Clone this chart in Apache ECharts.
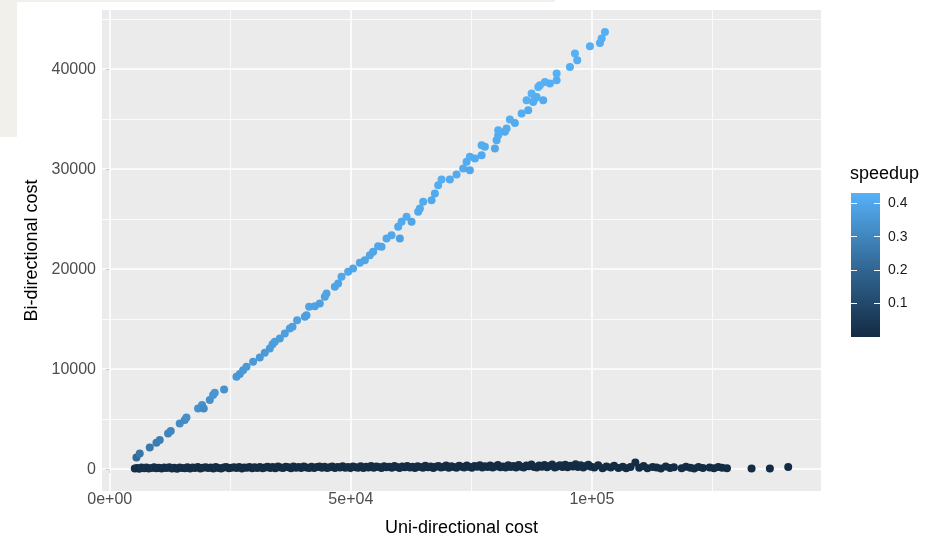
<!DOCTYPE html>
<html>
<head>
<meta charset="utf-8">
<script src="https://cdn.jsdelivr.net/npm/echarts@6/dist/echarts.min.js"></script>
<style>
  html, body { margin: 0; padding: 0; background: #fff; }
  #chart { width: 936px; height: 536px; }
</style>
</head>
<body>
<div id="chart"></div>
<script>
// upper branch (speedup ~0.2 - 0.43)
const uniHigh = [
  5540, 6224, 8299, 9689, 10373, 12095, 12656, 14523, 15560, 15913,
  18320, 19150, 19502, 20747, 21432, 21784, 23714, 26287, 26971,
  27656, 28361, 29730, 31121, 32158, 33195, 33756, 34233, 35270, 36307,
  37345, 37905, 38859, 40457, 40809, 41349, 42532, 43569, 44606, 44959,
  46681, 47366,
  48071, 49440, 50478, 51868, 52905, 53943, 54627, 55665, 56370, 57407,
  58445, 60166, 59814, 60519, 61556, 62593, 63963, 64316, 65000, 66743,
  67428, 68113,
  68818, 70540, 71930, 73300, 74689, 74005, 74689, 75727, 77117, 77117,
  77801, 79876, 80229, 80560, 80560, 82302, 81951, 82988, 84025, 85415,
  86784, 86452, 87489, 88527, 88880,
  87822, 88174, 89212, 89896, 90249, 91286, 92676, 92676, 95436, 96474,
  96951, 99586, 101660, 102013, 102697
];
const biHigh = [
  1170, 1570, 2170, 2630, 2900, 3570, 3800, 4570, 4900, 5170,
  6070, 6400, 6070, 6900, 7400, 7630, 7970, 9230, 9500,
  9900, 10230, 10730, 11170, 11630, 12070, 12500, 12730, 13070, 13570,
  14070, 14230, 14900, 15230, 15400, 16230, 16300, 16570, 17230, 17570,
  18230, 18570,
  19230, 19730, 20070, 20630, 20900, 21400, 21730, 22300, 22230, 23070,
  23400, 23070, 24230, 24730, 25230, 24730, 25730, 26070, 26730, 26900,
  27570, 28400,
  28970, 28970, 29470, 30070, 29900, 30730, 31230, 31070, 31400, 32400,
  32230, 32070, 32900, 33400, 33900, 34070, 33730, 34970, 34630, 35570,
  35900, 36900, 37570, 37230, 38230,
  36730, 37070, 38400, 36900, 38730, 38570, 39570, 38900, 40230, 41570,
  40900, 42300, 42630, 43070, 43730
];

// lower branch (speedup ~0)
const uniLow = [
  5200, 5650, 6100, 6600, 7150, 7600, 8100, 8700, 9200, 9650,
  10200, 10750, 11300, 11800, 12350, 12900, 13400, 13950, 14500, 15000,
  15600, 16100, 16650, 17200, 17700, 18250, 18800, 19300, 19900, 20400,
  20950, 21500, 22000, 22550, 23100, 23650, 24150, 24700, 25250, 25800,
  26300, 26850, 27400, 27900, 28450, 29000, 29550, 30050, 30600, 31150,
  31700, 32200, 32750, 33300, 33800, 34350, 34900, 35450, 35950, 36500,
  37050, 37600, 38100, 38650, 39200, 39700, 40250, 40800, 41350, 41850,
  42400, 42950, 43500, 44000, 44550, 45100, 45600, 46150, 46700, 47250,
  47750, 48300, 48850, 49400, 49900, 50450, 51000, 51500, 52050, 52600,
  53150, 53650, 54200, 54750, 55300, 55800, 56350, 56900, 57400, 57950,
  58500, 59050, 59550, 60100, 60650, 61200, 61700, 62250, 62800, 63300,
  63850, 64400, 64950, 65450, 66000, 66550, 67100, 67600, 68150, 68700,
  69200, 69750, 70300, 70850, 71350, 71900, 72450, 73000, 73500, 74050,
  74600, 75100, 75650, 76200, 76750, 77250, 77800, 78350, 78900, 79400,
  79950, 80500, 81000, 81550, 82100, 82650, 83150, 83700, 84250, 84800,
  85300, 85850, 86400, 86900, 87450, 88000, 88550, 89050, 89600, 90150,
  90700, 91200, 91750, 92300, 92800, 93350, 93900, 94450, 94950, 95500,
  96050, 96600, 97100, 97650, 98200, 98700, 99250, 99800,
  100500, 101300, 102200, 103000, 103900, 104600, 105500, 106400, 107100, 108000,
  109000, 109800, 110700, 111500, 112600, 113400, 114300, 115300, 116200, 117000,
  118600, 119500, 120400, 121200, 122100, 123000, 124400, 125300, 126200, 127000,
  128000, 133100, 136900, 140700
];
const biLow = [
  60, 120, 40, 150, 90, 170, 50, 110, 180, 80,
  130, 50, 160, 100, 190, 70, 140, 40, 170, 120,
  90, 190, 60, 150, 110, 200, 50, 140, 180, 100,
  160, 70, 200, 120, 60, 170, 210, 90, 140, 190,
  110, 210, 70, 170, 130, 220, 90, 180, 120, 200,
  80, 170, 240, 120, 200, 90, 250, 150, 110, 230,
  180, 90, 250, 140, 210, 100, 260, 170, 120, 230,
  100, 200, 270, 140, 240, 110, 190, 260, 100, 220,
  170, 290, 130, 220, 100, 260, 190, 140, 280, 110,
  230, 160, 300, 130, 250, 200, 110, 280, 180, 230,
  140, 300, 210, 120, 270, 190, 320, 150, 240, 110,
  290, 210, 140, 330, 190, 260, 120, 230, 310, 170,
  220, 350, 140, 290, 200, 130, 330, 240, 160, 370,
  210, 130, 310, 230, 390, 160, 280, 200, 360, 150,
  270, 420, 190, 250, 150, 380, 220, 320, 170, 410,
  240, 160, 370, 280, 450, 200, 150, 350, 240, 400,
  190, 320, 460, 170, 270, 390, 220, 440, 180, 340,
  250, 480, 200, 390, 160, 310, 430, 230,
  150, 380, 90, 270, 160, 330, 110, 240, 80, 200,
  650, 140, 310, 90, 220, 150, 60, 260, 120, 190,
  80, 230, 140, 60, 200, 110, 170, 90, 220, 130,
  80, 50, 50, 200
];

const xTicks = [0, 50000, 100000];
const xMinor = [25000, 75000, 125000];
const yTicks = [0, 10000, 20000, 30000, 40000];
const yMinor = [5000, 15000, 25000, 35000, 45000];
const legendTicks = [0.1, 0.2, 0.3, 0.4];

const lowColor = '#132B43';
const midColor = '#336A98';
const highColor = '#56B1F7';

function toPoints(uni, bi) {
  return uni.map((u, i) => [u, bi[i], bi[i] / u]);
}
const points = toPoints(uniLow, biLow).concat(toPoints(uniHigh, biHigh));
const spMax = Math.max(...points.map(p => p[2]));

// 5e+04 style labels like R prints them
function sci(v) {
  if (v === 0) return '0e+00';
  const [m, e] = v.toExponential(0).split('e');
  return m + 'e' + e[0] + e.slice(1).padStart(2, '0');
}

const chart = echarts.init(document.getElementById('chart'));
const font = 'Liberation Sans, Arial, sans-serif';

const gridLines = []
  .concat(xTicks.map(v => ({ xAxis: v, lineStyle: { width: 1.6 } })))
  .concat(xMinor.map(v => ({ xAxis: v, lineStyle: { width: 0.8 } })))
  .concat(yTicks.map(v => ({ yAxis: v, lineStyle: { width: 1.6 } })))
  .concat(yMinor.map(v => ({ yAxis: v, lineStyle: { width: 0.8 } })));

const option = {
  animation: false,
  backgroundColor: '#ffffff',
  textStyle: { fontFamily: font },
  graphic: [
    { type: 'rect', left: 0, top: 0, shape: { width: 17, height: 137 }, style: { fill: '#F1F0EA' }, z: 100 },
    { type: 'rect', left: 17, top: 0, shape: { width: 538, height: 2 }, style: { fill: '#F1F0EA' }, z: 100 }
  ],
  grid: [
    { left: 102, right: 115, top: 10, bottom: 45, outerBoundsMode: 'none', show: true, backgroundColor: '#EBEBEB', borderWidth: 0 },
    { left: 851, top: 193, width: 29, height: 144, outerBoundsMode: 'none', show: false }
  ],
  xAxis: [
    {
      type: 'value', gridIndex: 0, min: -1600, max: 147500,
      name: 'Uni-directional cost', nameLocation: 'middle', nameGap: 28,
      nameTextStyle: { color: '#000', fontSize: 18, fontFamily: font },
      axisLine: { show: false },
      axisTick: { show: true, customValues: xTicks, length: 4, lineStyle: { color: '#333333', width: 1 } },
      axisLabel: { customValues: xTicks, color: '#4D4D4D', fontSize: 16, margin: 1, formatter: v => sci(v) },
      splitLine: { show: false }
    },
    { type: 'category', gridIndex: 1, data: ['speedup'], show: false }
  ],
  yAxis: [
    {
      type: 'value', gridIndex: 0, min: -2190, max: 45920,
      name: 'Bi-directional cost', nameLocation: 'middle', nameGap: 51,
      nameTextStyle: { color: '#000', fontSize: 18, fontFamily: font },
      axisLine: { show: false },
      axisTick: { show: true, customValues: yTicks, length: 4, lineStyle: { color: '#333333', width: 1 } },
      axisLabel: { customValues: yTicks, color: '#4D4D4D', fontSize: 16, margin: 6, formatter: v => String(v) },
      splitLine: { show: false }
    },
    {
      type: 'value', gridIndex: 1, min: 0, max: spMax, position: 'right', z: 10,
      axisLine: { show: false },
      axisTick: { show: true, inside: true, customValues: legendTicks, length: 6, lineStyle: { color: '#ffffff', width: 1 } },
      axisLabel: { customValues: legendTicks, color: '#1A1A1A', fontSize: 14, margin: 8, formatter: v => v.toFixed(1) },
      splitLine: { show: false },
      name: 'speedup', nameLocation: 'end', nameGap: 10,
      nameTextStyle: { color: '#000', fontSize: 18, align: 'left', padding: [0, 0, 0, -30] }
    },
    {
      type: 'value', gridIndex: 1, min: 0, max: spMax, position: 'left', z: 10,
      axisLine: { show: false },
      axisTick: { show: true, inside: true, customValues: legendTicks, length: 6, lineStyle: { color: '#ffffff', width: 1 } },
      axisLabel: { show: false },
      splitLine: { show: false }
    }
  ],
  visualMap: {
    show: false, type: 'continuous', seriesIndex: 1, dimension: 2,
    min: 0, max: spMax,
    inRange: { color: [lowColor, midColor, highColor] }
  },
  series: [
    {
      // panel grid lines, drawn below the points
      type: 'line', xAxisIndex: 0, yAxisIndex: 0, data: [], z: 1,
      markLine: {
        silent: true, symbol: 'none', animation: false, z: 1,
        label: { show: false },
        lineStyle: { color: '#ffffff', type: 'solid' },
        data: gridLines
      }
    },
    {
      type: 'scatter', xAxisIndex: 0, yAxisIndex: 0, z: 3,
      symbolSize: 8,
      itemStyle: { opacity: 1 },
      data: points
    },
    {
      type: 'bar', xAxisIndex: 1, yAxisIndex: 1, barWidth: '100%', z: 2,
      data: [spMax],
      itemStyle: {
        color: new echarts.graphic.LinearGradient(0, 0, 0, 1, [
          { offset: 0, color: highColor },
          { offset: 0.5, color: midColor },
          { offset: 1, color: lowColor }
        ])
      }
    }
  ]
};

chart.setOption(option);
</script>
</body>
</html>
